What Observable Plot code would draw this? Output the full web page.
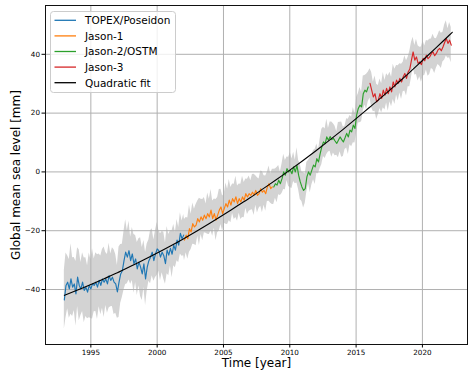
<!DOCTYPE html>
<html><head><meta charset="utf-8">
<script src="https://cdn.jsdelivr.net/npm/d3@7"></script>
<script src="https://cdn.jsdelivr.net/npm/@observablehq/plot@0.6"></script>
<style>
html,body{margin:0;padding:0;background:#fff;}
#wrap{position:relative;width:468px;height:371px;font-family:"DejaVu Sans",sans-serif;}
#legend{position:absolute;left:50px;top:11px;}
</style></head><body><div id="wrap"></div>
<script>
const missions = ["TOPEX/Poseidon", "Jason-1", "Jason-2/OSTM", "Jason-3"];
const missionColors = ["#1f77b4", "#ff7f0e", "#2ca02c", "#d62728"];
const fitLabel = "Quadratic fit";
const sampleStep = 0.125;
const missionStarts = [1993.0, 2002.06, 2008.79, 2016.05];

const topexGmsl = [-43.5,-38.6,-37.5,-39.8,-36.4,-39.2,-38.1,-41.5,-35.8,-38.6,
  -39.8,-37.5,-40.3,-39.2,-40.9,-38.6,-39.8,-38.1,-38.6,-37.5,
  -39.2,-36.9,-38.6,-36.4,-37.5,-36.4,-38.1,-35.3,-36.9,-35.8,
  -37.5,-38.1,-40.8,-37.5,-34.7,-33.6,-30.2,-27.3,-29.0,-26.8,
  -30.2,-27.9,-31.3,-29.6,-33.0,-30.7,-32.4,-34.7,-31.3,-36.4,
  -32.4,-30.2,-29.0,-27.3,-30.2,-27.9,-26.2,-26.8,-29.0,-27.3,
  -28.5,-31.2,-26.6,-28.3,-26.0,-28.0,-24.9,-26.6,-23.2,-24.9,
  -20.9,-22.7,-21.5];
const topexUnc = [10,11,9,10,12,10,9,11,10,12, 9,10,11,10,9,11,10,12,9,10,
  11,9,10,10,12,9,10,11,9,10, 11,10,9,12,10,9,10,11,9,10,
  8,9,10,8,9,8,10,9,8,9, 8,7,9,8,7,8,9,7,8,7,
  8,7,8,7,6,8,7,6,7,6, 7,6,7];

const jason1Gmsl = [-23.2,-21.5,-22.7,-19.3,-20.4,-17.6,-18.7,-18.1,-15.9,-17.0,
  -15.3,-16.4,-14.7,-15.9,-14.2,-15.3,-13.0,-15.9,-14.2,-16.4,
  -14.7,-13.0,-11.9,-14.2,-12.5,-10.8,-11.9,-9.6,-11.3,-9.1,
  -10.2,-8.5,-10.8,-9.1,-10.2,-8.5,-9.6,-7.4,-8.5,-7.4,
  -8.0,-6.9,-7.8,-6.3,-8.0,-7.4,-5.7,-6.9,-6.3,-7.4,
  -5.1,-4.0,-5.7,-5.1];
const jason1Unc = [7,6,7,8,6,7,6,7,6,8, 6,7,6,5,7,6,7,6,5,7,
  6,7,6,6,5,7,6,7,6,5, 6,7,6,5,6,7,6,5,6,6,
  5,6,7,5,6,5,6,7,5,6, 5,6,5,6];

const jason2Gmsl = [-5.1,-4.0,-4.5,-2.8,-4.0,-2.3,0.0,-1.1,1.1,0.0,
  0.6,-0.6,1.7,0.0,2.2,-1.1,-3.4,-5.1,-6.3,-5.7,
  -1.7,0.0,-1.1,0.6,2.3,1.7,4.5,3.4,6.2,8.5,
  10.2,9.6,11.9,10.8,12.0,11.0,11.4,10.5,9.7,10.8,
  11.9,11.0,10.2,11.6,13.1,11.9,14.2,13.6,15.9,14.8,
  19.3,21.6,22.7,22.1,26.6,27.8,27.2,28.9];
const jason2Unc = [6,5,6,5,4,5,6,5,4,5, 6,5,5,4,6,5,6,5,6,5,
  5,4,6,5,5,6,5,4,5,6, 5,5,6,4,5,6,5,5,4,6,
  5,6,5,4,5,6,5,5,6,5, 6,5,6,5,6,5,6,5];

const jason3Gmsl = [30.1,27.8,25.5,26.6,23.8,24.4,26.6,25.0,27.8,26.1,
  28.4,26.6,28.9,27.2,30.6,28.9,31.2,30.1,31.8,30.6,
  32.3,33.5,31.8,34.0,35.0,38.0,40.8,38.0,39.1,36.9,
  37.4,36.5,38.6,37.8,39.7,38.5,39.1,40.2,40.8,39.5,
  40.3,41.5,42.0,41.2,42.5,44.0,45.4,43.7,44.8,43.1];
const jason3Unc = [5,6,5,6,6,5,5,5,6,5, 5,6,5,5,6,6,5,6,5,6,
  5,6,6,5,6,6,5,5,6,6, 5,6,6,5,5,6,6,5,6,6,
  5,5,6,6,5,6,6,5,6,6];

const fitYears = [1993,1994,1995,1996,1997,1998,1999,2000,2001,2002,2003,2004,2005,2006,2007,
  2008,2009,2010,2011,2012,2013,2014,2015,2016,2017,2018,2019,2020,2021,2022,2022.25];
const fitGmsl = [-42.0,-40.2,-38.3,-36.3,-34.3,-32.1,-29.9,-27.6,-25.2,-22.7,-20.1,-17.4,-14.6,-11.7,-8.8,
  -5.7,-2.6,0.6,3.9,7.3,10.8,14.4,18.1,21.9,25.7,29.7,33.7,37.9,42.1,46.4,47.5];

const xTicks = [1995, 2000, 2005, 2010, 2015, 2020];
const yTicks = [-40, -20, 0, 20, 40];
const xLabel = "Time [year]";
const yLabel = "Global mean sea level [mm]";

const seriesSets = [[topexGmsl, topexUnc], [jason1Gmsl, jason1Unc], [jason2Gmsl, jason2Unc], [jason3Gmsl, jason3Unc]];
const rows = [];
seriesSets.forEach(([vals, unc], k) => vals.forEach((v, i) =>
  rows.push({t: missionStarts[k] + i * sampleStep, v, u: unc[i], mission: missions[k]})));
const fit = fitYears.map((t, i) => ({t, v: fitGmsl[i]}));

const fmt = d => d < 0 ? "\u2212" + Math.abs(d) : String(d);

const chart = Plot.plot({
  width: 468, height: 371,
  marginLeft: 45, marginRight: 1, marginTop: 5, marginBottom: 27,
  style: {fontFamily: "DejaVu Sans", background: "white", color: "black"},
  x: {domain: [1991.58, 2023.4]},
  y: {domain: [-58.7, 56.6]},
  color: {domain: missions, range: missionColors},
  marks: [
    Plot.areaY(rows, {x: "t", y1: d => d.v - d.u, y2: d => d.v + d.u, fill: "#d3d3d3"}),
    Plot.gridX({ticks: xTicks, stroke: "#b0b0b0", strokeOpacity: 1, strokeWidth: 1}),
    Plot.gridY({ticks: yTicks, stroke: "#b0b0b0", strokeOpacity: 1, strokeWidth: 1}),
    Plot.line(rows, {x: "t", y: "v", stroke: "mission", z: "mission", strokeWidth: 1.15}),
    Plot.line(fit, {x: "t", y: "v", stroke: "black", strokeWidth: 1.1, curve: "natural"}),
    Plot.frame({stroke: "#111", strokeWidth: 1}),
    Plot.axisX({ticks: xTicks, tickSize: 3.5, tickPadding: 1.5, fontSize: 7.2, tickFormat: d => String(d), label: null}),
    Plot.axisY({ticks: yTicks, tickSize: 3.5, tickPadding: 2, fontSize: 7.2, tickFormat: fmt, label: null}),
    Plot.text([xLabel], {text: d => d, frameAnchor: "bottom", dy: 22.3, fontSize: 12, textAnchor: "middle"}),
    Plot.text([yLabel], {text: d => d, frameAnchor: "left", dx: -29, rotate: -90, fontSize: 12, textAnchor: "middle"})
  ]
});
const wrap = document.getElementById("wrap");
wrap.appendChild(chart);

// legend overlay
const ns = "http://www.w3.org/2000/svg";
const leg = document.createElementNS(ns, "svg");
leg.setAttribute("id", "legend");
leg.setAttribute("width", 127);
leg.setAttribute("height", 83);
const box = document.createElementNS(ns, "rect");
Object.entries({x: 0.5, y: 0.5, width: 125, height: 81, rx: 3, fill: "white", "fill-opacity": 0.8, stroke: "#cccccc"})
  .forEach(([k, v]) => box.setAttribute(k, v));
leg.appendChild(box);
const entries = missions.map((m, i) => [m, missionColors[i]]).concat([[fitLabel, "black"]]);
entries.forEach(([name, col], i) => {
  const cy = 9.3 + i * 15.6;
  const ln = document.createElementNS(ns, "line");
  Object.entries({x1: 4.5, x2: 26, y1: cy, y2: cy, stroke: col, "stroke-width": 1.3}).forEach(([k, v]) => ln.setAttribute(k, v));
  leg.appendChild(ln);
  const tx = document.createElementNS(ns, "text");
  Object.entries({x: 35, y: cy + 3.8, "font-size": 10.5, "font-family": "DejaVu Sans", fill: "black"}).forEach(([k, v]) => tx.setAttribute(k, v));
  tx.textContent = name;
  leg.appendChild(tx);
});
wrap.appendChild(leg);
</script></body></html>
